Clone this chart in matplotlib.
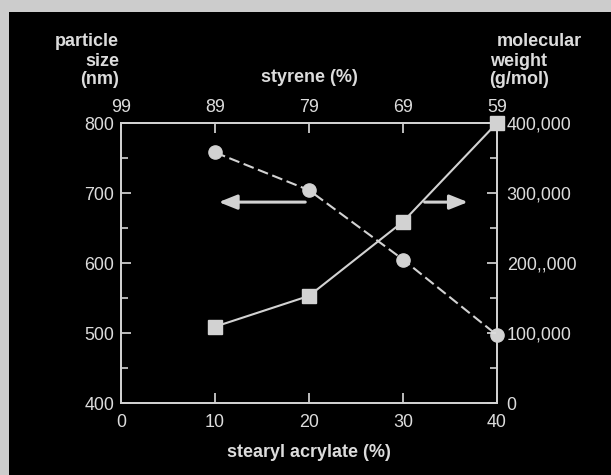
import matplotlib
matplotlib.use("Agg")
import matplotlib.pyplot as plt
from matplotlib.patches import Rectangle
from matplotlib.ticker import FixedLocator

# ---- data ----
stearyl_acrylate = [10, 20, 30, 40]
particle_size = [758, 704, 605, 497]
molecular_weight = [109000, 153000, 259000, 400000]
bottom_ticks = [0, 10, 20, 30, 40]
styrene_labels = ["99", "89", "79", "69", "59"]
left_ticks = [400, 500, 600, 700, 800]
right_ticks = [0, 100000, 200000, 300000, 400000]
right_labels = ["0", "100,000", "200,,000", "300,000", "400,000"]

plt.rcParams['font.family'] = ['Liberation Sans', 'DejaVu Sans']
FG = "#dcdcdc"
LN = "#d2d2d2"

W, H = 611, 475
fig = plt.figure(figsize=(W / 100, H / 100), dpi=100)
fig.patch.set_facecolor("#cccccc")
fig.add_artist(Rectangle((9 / W, 0), 1 - 9 / W, 1 - 12 / H, transform=fig.transFigure,
                         facecolor="black", edgecolor="none", zorder=0))

l, r, t, b = 121, 497, 123, 403
ax = fig.add_axes([l / W, 1 - b / H, (r - l) / W, (b - t) / H])
ax.set_facecolor("black")
ax.set_xlim(0, 40)
ax.set_ylim(400, 800)
for s in ax.spines.values():
    s.set_color(LN)
    s.set_linewidth(1.3)

ax.set_xticks(bottom_ticks)
ax.set_xticklabels([str(v) for v in bottom_ticks])
ax.set_yticks(left_ticks)
ax.yaxis.set_minor_locator(FixedLocator([450, 550, 650, 750]))
ax.tick_params(axis='both', which='major', direction='in', colors=FG, labelsize=12.9,
               length=7, width=1.2)
ax.tick_params(axis='y', which='minor', direction='in', colors=LN, length=5, width=1.2)
ax.tick_params(axis='x', pad=8)
ax.tick_params(axis='y', pad=5)

top = ax.secondary_xaxis('top')
top.set_xticks(bottom_ticks)
top.set_xticklabels(styrene_labels)
top.tick_params(direction='in', colors=FG, labelsize=12.9, length=7, width=1.2, pad=5)
top.spines['top'].set_color(LN)
top.spines['top'].set_linewidth(1.3)

ax2 = ax.twinx()
ax2.set_ylim(0, 400000)
ax2.set_yticks(right_ticks)
ax2.set_yticklabels(right_labels)
ax2.yaxis.set_minor_locator(FixedLocator([50000, 150000, 250000, 350000]))
ax2.tick_params(axis='y', which='major', direction='in', colors=FG, labelsize=12.9,
                length=7, width=1.2, pad=7)
ax2.tick_params(axis='y', which='minor', direction='in', colors=LN, length=5, width=1.2)
for s in ax2.spines.values():
    s.set_color(LN)
    s.set_linewidth(1.3)

ax.plot(stearyl_acrylate, particle_size, linestyle=(0, (5.2, 2.2)), color=LN, lw=1.5,
        marker='o', markersize=9.5, markerfacecolor=LN, markeredgecolor=LN,
        clip_on=False, zorder=5)
ax2.plot(stearyl_acrylate, molecular_weight, linestyle='-', color=LN, lw=1.5,
         marker='s', markersize=9.5, markerfacecolor=LN, markeredgecolor=LN,
         clip_on=False, zorder=5)

arrow_kw = dict(arrowstyle='-|>,head_length=1.0,head_width=0.4', color=LN, lw=2.2,
                shrinkA=0, shrinkB=0, mutation_scale=11)
ax2.annotate('', xy=(10.4, 287000), xytext=(19.6, 287000), arrowprops=arrow_kw)
ax2.annotate('', xy=(36.9, 287000), xytext=(32.3, 287000), arrowprops=arrow_kw)

ax.set_xlabel("stearyl acrylate (%)", color=FG, fontsize=13, fontweight='bold', labelpad=9)
fig.text(309 / W, 1 - 78 / H, "styrene (%)", color=FG, fontsize=13, fontweight='bold',
         ha='center', va='center')
for i, txt in enumerate(["particle", "size", "(nm)"]):
    fig.text(119 / W, 1 - (42 + 19 * i) / H, txt, color=FG, fontsize=13, fontweight='bold',
             ha='right', va='center')
for i, (txt, x) in enumerate([("molecular", 497), ("weight", 490), ("(g/mol)", 489)]):
    fig.text(x / W, 1 - (42 + 19 * i) / H, txt, color=FG, fontsize=13, fontweight='bold',
             ha='left', va='center')

fig.savefig("out.png", dpi=100, facecolor=fig.get_facecolor())
